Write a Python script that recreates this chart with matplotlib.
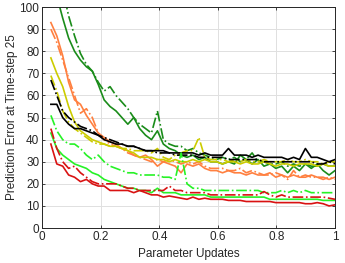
import numpy as np
import matplotlib
matplotlib.use("Agg")
import matplotlib.pyplot as plt

# parameter updates (fraction of training)
x = np.linspace(0.03, 1.0, 49)

dg_solid = [120, 105, 95, 86, 80, 76, 73, 71, 65, 58, 55, 53, 50, 47, 50, 45, 42, 40, 44, 38,
            36, 35, 33, 32, 33, 31, 32, 30, 30, 29, 30, 29, 33, 31, 29, 31, 28, 29, 27, 28,
            25, 28, 26, 29, 27, 29, 26, 24, 26]
dg_dash = [135, 120, 108, 96, 87, 79, 74, 71, 66, 62, 64, 60, 57, 54, 50, 47, 45, 43, 53, 40,
           38, 37, 37, 35, 36, 34, 33, 32, 31, 32, 31, 32, 30, 31, 34, 30, 30, 29, 29, 30,
           28, 29, 28, 29, 28, 28, 29, 28, 28]
or_solid = [93, 87, 78, 66, 58, 56, 51, 47, 43, 41, 39, 38, 36, 35, 33, 32, 33, 31, 28, 30,
            29, 28, 25, 29, 28, 29, 27, 26, 26, 25, 26, 25, 25, 24, 25, 24, 24, 25, 23, 24,
            23, 24, 23, 23, 24, 23, 23, 22, 23]
or_dash = [90, 84, 76, 68, 60, 52, 54, 50, 43, 40, 38, 37, 36, 34, 33, 32, 31, 30, 31, 30,
           31, 30, 29, 30, 29, 30, 28, 27, 27, 27, 26, 26, 27, 25, 26, 25, 24, 24, 25, 24,
           22, 26, 23, 24, 23, 23, 22, 23, 22]
ye_solid = [77, 70, 64, 55, 48, 44, 42, 40, 39, 38, 37, 37, 36, 35, 34, 32, 32, 32, 31, 31,
            30, 31, 30, 30, 31, 30, 31, 30, 30, 29, 30, 30, 29, 30, 29, 29, 30, 29, 28, 29,
            29, 28, 29, 29, 29, 28, 29, 28, 28]
ye_dash = [69, 62, 53, 48, 45, 43, 41, 39, 38, 38, 37, 37, 36, 36, 35, 35, 35, 34, 36, 32,
           31, 33, 34, 35, 35, 41, 32, 31, 31, 31, 30, 31, 30, 31, 30, 30, 31, 30, 30, 30,
           31, 30, 30, 31, 30, 30, 29, 30, 30]
bk_solid = [56, 56, 50, 47, 45, 45, 44, 43, 42, 40, 39, 38, 38, 37, 37, 36, 35, 35, 35, 35,
            34, 34, 34, 34, 34, 33, 34, 33, 33, 33, 36, 33, 33, 33, 32, 33, 32, 32, 32, 32,
            31, 32, 31, 36, 32, 32, 31, 30, 31]
bk_dash = [67, 60, 53, 50, 48, 46, 45, 44, 42, 41, 40, 39, 38, 37, 37, 36, 35, 35, 34, 34,
           34, 33, 33, 33, 33, 32, 32, 32, 32, 32, 31, 31, 31, 31, 31, 31, 30, 30, 30, 30,
           30, 30, 30, 30, 30, 29, 29, 30, 29]
lg_solid = [43, 36, 33, 31, 29, 28, 27, 25, 24, 22, 21, 20, 19, 18, 18, 17, 17, 16, 18, 16,
            16, 16, 15, 15, 15, 15, 15, 14, 14, 14, 14, 14, 14, 14, 14, 14, 14, 13, 13, 13,
            13, 13, 13, 13, 13, 13, 12.5, 12.5, 12.5]
lg_dash = [51, 44, 40, 38, 38, 36, 33, 31, 33, 30, 28, 27, 26, 25, 25, 24, 24, 24, 24, 23,
           23, 22, 34, 20, 18, 18, 17, 17, 17, 17, 17, 17, 17, 17, 17, 17, 16, 16, 16, 17,
           16, 17, 16, 17, 16, 16, 16, 16, 16]
rd_solid = [38, 29, 28, 24, 23, 21, 22, 20, 19, 19, 17, 17, 17, 17, 16, 17, 16, 15, 15, 14,
            14.5, 14, 13.5, 13, 14, 13, 13.5, 13, 13, 13, 12.5, 12.5, 12.5, 12, 12, 12, 12, 12, 11.5, 11.5,
            11.5, 11.5, 11.5, 11, 11, 11.5, 11, 10, 10.5]
rd_dash = [45, 36, 30, 27, 28, 25, 23, 21, 20, 20, 20, 20, 19, 18, 18, 17, 17, 17, 17, 17,
           19, 17, 17, 16, 16, 16, 16, 15, 15, 15, 15, 15, 15, 15, 15, 15, 16.5, 15, 14, 15,
           14, 14, 14, 14, 14, 14, 14, 13.5, 13]

dark_green = (0.1, 0.55, 0.1)
orange = (1.0, 0.5, 0.25)
yellow = (0.8, 0.8, 0.0)
black = (0.0, 0.0, 0.0)
light_green = (0.15, 0.95, 0.15)
red = (0.85, 0.07, 0.07)

series = [
    (dg_solid, dark_green, '-'), (dg_dash, dark_green, '-.'),
    (or_solid, orange, '-'), (or_dash, orange, '-.'),
    (ye_solid, yellow, '-'), (ye_dash, yellow, '-.'),
    (bk_solid, black, '-'), (bk_dash, black, '-.'),
    (lg_solid, light_green, '-'), (lg_dash, light_green, '-.'),
    (rd_solid, red, '-'), (rd_dash, red, '-.'),
]

plt.rcParams['font.family'] = ['Liberation Sans', 'DejaVu Sans']

fig = plt.figure(figsize=(3.45, 2.63), dpi=100)
ax = fig.add_axes([0.122, 0.133, 0.849, 0.84])

for ys, c, ls in series:
    ax.plot(x, ys, color=c, linestyle=ls, linewidth=1.2)

ax.set_xlim(0, 1)
ax.set_ylim(0, 100)
ax.set_xticks([0, 0.2, 0.4, 0.6, 0.8, 1])
ax.set_xticklabels(['0', '0.2', '0.4', '0.6', '0.8', '1'])
ax.set_yticks(range(0, 101, 10))
ax.grid(True, color=(0.88, 0.88, 0.88), linewidth=0.7)
ax.set_axisbelow(True)
ax.tick_params(direction='in', length=2.5, width=0.6, labelsize=8.5, colors=(0.15, 0.15, 0.15),
               top=True, right=True, pad=2)
for s in ax.spines.values():
    s.set_color((0.15, 0.15, 0.15))
    s.set_linewidth(0.7)

ax.set_xlabel('Parameter Updates', fontsize=8.5, color=(0.15, 0.15, 0.15), labelpad=4)
ax.set_ylabel('Prediction Error at Time-step 25', fontsize=8.5, color=(0.15, 0.15, 0.15), labelpad=1)

fig.savefig('out.png', dpi=100)
